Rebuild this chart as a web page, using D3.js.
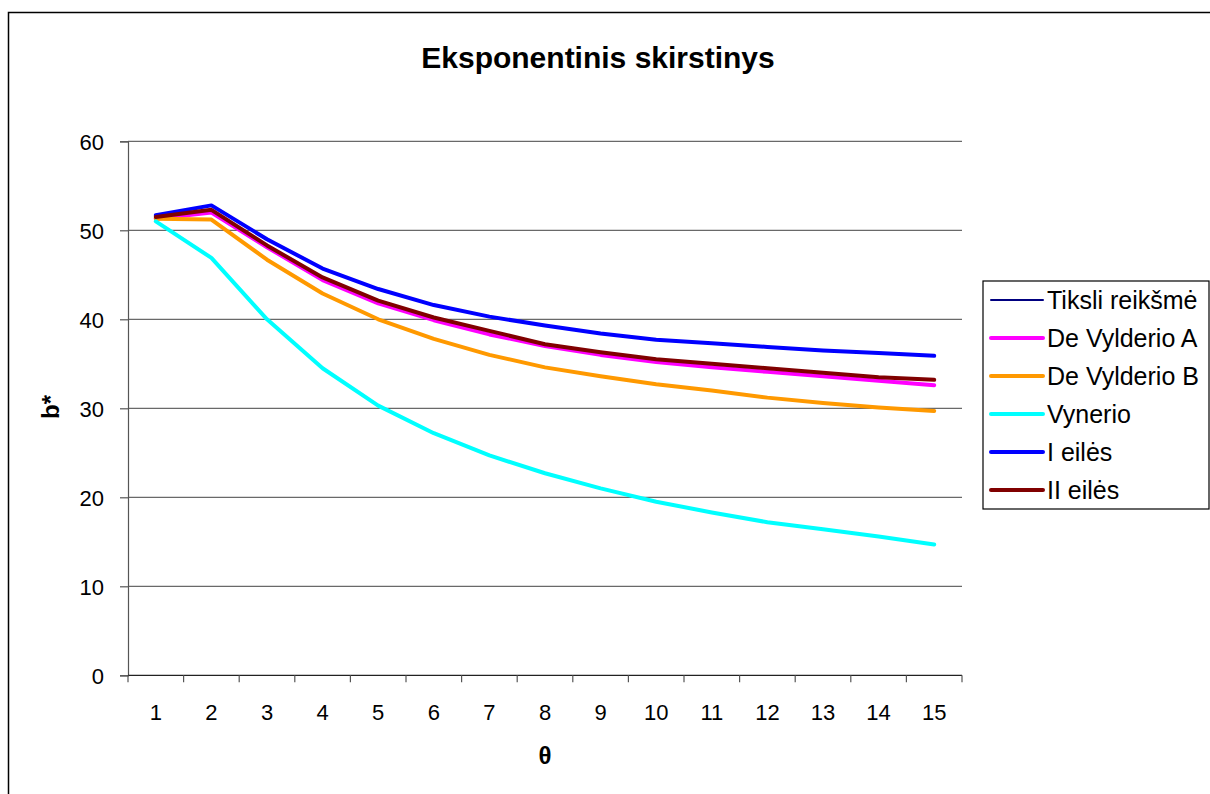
<!DOCTYPE html>
<html>
<head>
<meta charset="utf-8">
<script src="https://cdn.jsdelivr.net/npm/d3@7"></script>
<style>
  body { margin: 0; background: #fff; }
  text { font-family: "Liberation Sans", Arial, sans-serif; fill: #000; }
</style>
</head>
<body>
<div id="chart"></div>
<script>
var categories = [1, 2, 3, 4, 5, 6, 7, 8, 9, 10, 11, 12, 13, 14, 15];
var yTicks = [0, 10, 20, 30, 40, 50, 60];

var tiksli      = [51.7, 52.8, 49.0, 45.7, 43.4, 41.6, 40.3, 39.3, 38.4, 37.7, 37.3, 36.9, 36.5, 36.2, 35.9];
var vylderioA   = [51.3, 52.0, 48.1, 44.4, 41.8, 39.9, 38.3, 37.0, 36.0, 35.2, 34.6, 34.1, 33.6, 33.1, 32.6];
var vylderioB   = [51.3, 51.2, 46.7, 42.9, 40.0, 37.8, 36.0, 34.6, 33.6, 32.7, 32.0, 31.2, 30.6, 30.1, 29.7];
var vynerio     = [51.0, 46.9, 40.0, 34.5, 30.3, 27.2, 24.7, 22.7, 21.0, 19.5, 18.3, 17.2, 16.4, 15.6, 14.7];
var pirmosEiles = [51.7, 52.8, 49.0, 45.7, 43.4, 41.6, 40.3, 39.3, 38.4, 37.7, 37.3, 36.9, 36.5, 36.2, 35.9];
var antrosEiles = [51.5, 52.3, 48.3, 44.7, 42.1, 40.2, 38.7, 37.2, 36.3, 35.5, 35.0, 34.5, 34.0, 33.5, 33.2];

var seriesNames  = ["Tiksli reikšmė", "De Vylderio A", "De Vylderio B", "Vynerio", "I eilės", "II eilės"];
var seriesValues = [tiksli, vylderioA, vylderioB, vynerio, pirmosEiles, antrosEiles];
var seriesColors = ["#000080", "#ff00ff", "#ff9900", "#00ffff", "#0000ff", "#800000"];
var seriesWidths = [2, 4, 4, 4, 4, 4];

var W = 1210, H = 794;
var plot = { left: 128, right: 962, top: 141.3, bottom: 675.3 };

var svg = d3.select("#chart").append("svg")
  .attr("width", W)
  .attr("height", H);

// chart frame
svg.append("rect")
  .attr("x", 8.5).attr("y", 12.5)
  .attr("width", W + 10).attr("height", H + 10)
  .attr("fill", "#fff")
  .attr("stroke", "#000").attr("stroke-width", 1.5);

var x = d3.scaleBand()
  .domain(categories)
  .range([plot.left, plot.right])
  .padding(0);

var y = d3.scaleLinear()
  .domain([0, 60])
  .range([plot.bottom, plot.top]);

// gridlines
svg.append("g")
  .selectAll("line")
  .data(yTicks.slice(1))
  .enter().append("line")
  .attr("x1", plot.left).attr("x2", plot.right)
  .attr("y1", function(d){ return y(d); })
  .attr("y2", function(d){ return y(d); })
  .attr("stroke", "#444").attr("stroke-width", 1);

// y axis
var yAxis = svg.append("g")
  .attr("transform", "translate(" + plot.left + ",0)")
  .call(d3.axisLeft(y).tickValues(yTicks).tickSize(8).tickPadding(16));
yAxis.selectAll("path, line").attr("stroke", "#555").attr("stroke-width", 1.2);
yAxis.selectAll("text").style("font-size", "22px").attr("fill", "#000").attr("dy", "0.36em");

// x axis: ticks between categories
var xAxis = svg.append("g")
  .attr("transform", "translate(0," + plot.bottom + ")");
xAxis.append("line")
  .attr("x1", plot.left).attr("x2", plot.right)
  .attr("stroke", "#222").attr("stroke-width", 1.2);
xAxis.selectAll(".tick-mark")
  .data(categories.concat([null]))
  .enter().append("line")
  .attr("class", "tick-mark")
  .attr("x1", function(d, i){ return plot.left + i * x.bandwidth(); })
  .attr("x2", function(d, i){ return plot.left + i * x.bandwidth(); })
  .attr("y1", 0).attr("y2", 7)
  .attr("stroke", "#555").attr("stroke-width", 1.2);
xAxis.selectAll(".tick-label")
  .data(categories)
  .enter().append("text")
  .attr("class", "tick-label")
  .attr("x", function(d){ return x(d) + x.bandwidth() / 2; })
  .attr("y", 45)
  .attr("text-anchor", "middle")
  .style("font-size", "22px")
  .text(function(d){ return d; });

// lines
var line = d3.line()
  .x(function(d, i){ return x(categories[i]) + x.bandwidth() / 2; })
  .y(function(d){ return y(d); });

svg.append("g")
  .selectAll("path")
  .data(seriesValues)
  .enter().append("path")
  .attr("d", line)
  .attr("fill", "none")
  .attr("stroke", function(d, i){ return seriesColors[i]; })
  .attr("stroke-width", function(d, i){ return seriesWidths[i]; })
  .attr("stroke-linejoin", "round")
  .attr("stroke-linecap", "round");

// title and axis labels
svg.append("text")
  .attr("x", 598).attr("y", 68)
  .attr("text-anchor", "middle")
  .style("font-size", "30px").style("font-weight", "bold")
  .text("Eksponentinis skirstinys");

svg.append("text")
  .attr("x", 545).attr("y", 764)
  .attr("text-anchor", "middle")
  .style("font-size", "24px").style("font-weight", "bold")
  .text("θ");

svg.append("text")
  .attr("transform", "translate(59," + 407 + ")rotate(-90)")
  .attr("text-anchor", "middle")
  .style("font-size", "24px").style("font-weight", "bold")
  .text("b*");

// legend
var legend = svg.append("g").attr("transform", "translate(983,281)");
legend.append("rect")
  .attr("width", 226).attr("height", 228)
  .attr("fill", "#fff").attr("stroke", "#000").attr("stroke-width", 1.2);

var item = legend.selectAll(".item")
  .data(seriesNames)
  .enter().append("g")
  .attr("class", "item")
  .attr("transform", function(d, i){ return "translate(0," + (19 + i * 38) + ")"; });
item.append("line")
  .attr("x1", 8).attr("x2", 60)
  .attr("stroke", function(d, i){ return seriesColors[i]; })
  .attr("stroke-width", function(d, i){ return seriesWidths[i]; })
  .attr("stroke-linecap", "round");
item.append("text")
  .attr("x", 64).attr("dy", "0.36em")
  .style("font-size", "25px")
  .text(function(d){ return d; });
</script>
</body>
</html>
